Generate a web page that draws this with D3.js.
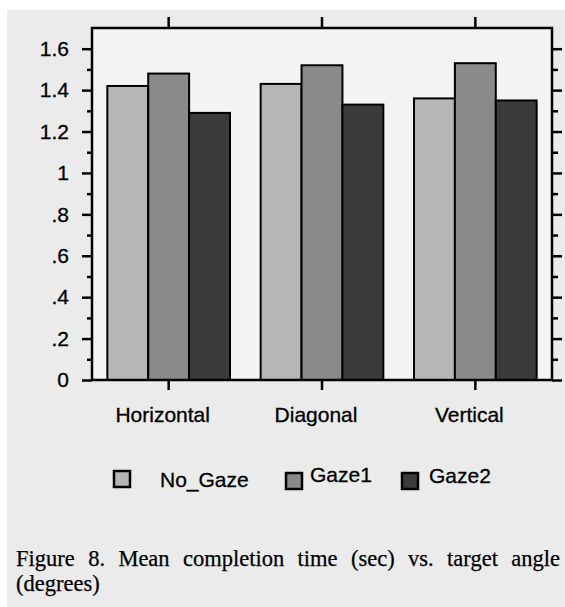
<!DOCTYPE html>
<html><head><meta charset="utf-8">
<script src="https://cdn.jsdelivr.net/npm/d3@7"></script>
<style>html,body{margin:0;padding:0;background:#fff;}svg{display:block;}</style>
</head><body>
<svg id="chart" width="565" height="607"></svg>
<script>
const categories = ["Horizontal", "Diagonal", "Vertical"];
const seriesNames = ["No_Gaze", "Gaze1", "Gaze2"];
const noGaze = [1.42, 1.43, 1.36];
const gaze1 = [1.48, 1.52, 1.53];
const gaze2 = [1.29, 1.33, 1.35];
const seriesValues = [noGaze, gaze1, gaze2];
const seriesColors = ["#b6b6b6", "#8a8a8a", "#3b3b3b"];
const yTickValues = [0, 0.2, 0.4, 0.6, 0.8, 1.0, 1.2, 1.4, 1.6];
const yTickLabels = ["0", ".2", ".4", ".6", ".8", "1", "1.2", "1.4", "1.6"];
const yMinorValues = [0.1, 0.3, 0.5, 0.7, 0.9, 1.1, 1.3, 1.5];
const captionLines = ["Figure 8. Mean completion time (sec) vs. target angle", "(degrees)"];

const svg = d3.select("#chart");
const L = 92, R = 552, T = 28, B = 380;

svg.append("rect").attr("x", 7).attr("y", 10).attr("width", 558).attr("height", 597).attr("fill", "#ebebeb");
svg.append("rect").attr("x", L).attr("y", T).attr("width", R - L).attr("height", B - T).attr("fill", "#f4f4f4");

const x0 = d3.scaleBand().domain(categories).range([L, R]).paddingInner(0.2).paddingOuter(0.1);
const x1 = d3.scaleBand().domain(seriesNames).range([0, x0.bandwidth()]);
const y = d3.scaleLinear().domain([0, 1.7]).range([B, T]);

const font = "'Liberation Sans', Arial, Helvetica, sans-serif";

// bars
const groups = svg.append("g").selectAll("g").data(categories).join("g")
  .attr("transform", d => `translate(${x0(d)},0)`);
groups.selectAll("rect").data((c, ci) => seriesNames.map((s, si) => ({s, si, v: seriesValues[si][ci]})))
  .join("rect")
  .attr("x", d => x1(d.s)).attr("width", x1.bandwidth())
  .attr("y", d => y(d.v)).attr("height", d => y(0) - y(d.v))
  .attr("fill", d => seriesColors[d.si]).attr("stroke", "#000").attr("stroke-width", 2);

// frame
svg.append("rect").attr("x", L).attr("y", T).attr("width", R - L).attr("height", B - T)
  .attr("fill", "none").attr("stroke", "#000").attr("stroke-width", 2.5);

// left axis
const leftAxis = d3.axisLeft(y).tickValues(yTickValues).tickSize(10).tickPadding(13)
  .tickFormat((d, i) => yTickLabels[i]);
const gl = svg.append("g").attr("transform", `translate(${L},0)`).call(leftAxis);
gl.select(".domain").remove();
gl.selectAll(".tick line").attr("stroke", "#000").attr("stroke-width", 2.5);
gl.selectAll(".tick text").attr("font-family", font).attr("font-size", 21).attr("fill", "#000")
  .attr("stroke", "#000").attr("stroke-width", 0.3);
const glm = svg.append("g").attr("transform", `translate(${L},0)`)
  .call(d3.axisLeft(y).tickValues(yMinorValues).tickSize(5).tickFormat(""));
glm.select(".domain").remove();
glm.selectAll(".tick line").attr("stroke", "#000").attr("stroke-width", 2.5);

// right axis
const gr = svg.append("g").attr("transform", `translate(${R},0)`)
  .call(d3.axisRight(y).tickValues(yTickValues).tickSize(10).tickFormat(""));
gr.select(".domain").remove();
gr.selectAll(".tick line").attr("stroke", "#000").attr("stroke-width", 2.5);
const grm = svg.append("g").attr("transform", `translate(${R},0)`)
  .call(d3.axisRight(y).tickValues(yMinorValues).tickSize(6).tickFormat(""));
grm.select(".domain").remove();
grm.selectAll(".tick line").attr("stroke", "#000").attr("stroke-width", 2.5);

// bottom axis
const gb = svg.append("g").attr("transform", `translate(0,${B})`)
  .call(d3.axisBottom(x0).tickSize(10).tickPadding(17));
gb.select(".domain").remove();
gb.selectAll(".tick line").attr("stroke", "#000").attr("stroke-width", 2.5);
gb.selectAll(".tick text").attr("font-family", font).attr("font-size", 21).attr("fill", "#000")
  .attr("stroke", "#000").attr("stroke-width", 0.3).attr("dx", -6);

// top axis
const gt = svg.append("g").attr("transform", `translate(0,${T})`)
  .call(d3.axisTop(x0).tickSize(11).tickFormat(""));
gt.select(".domain").remove();
gt.selectAll(".tick line").attr("stroke", "#000").attr("stroke-width", 2.5);

// legend
const legendItems = [
  {sx: 114, sy: 471, tx: 160, ty: 487},
  {sx: 286, sy: 473, tx: 310, ty: 482},
  {sx: 402, sy: 473, tx: 429, ty: 483}
];
const lg = svg.append("g");
seriesNames.forEach((s, i) => {
  const p = legendItems[i];
  lg.append("rect").attr("x", p.sx).attr("y", p.sy).attr("width", 16).attr("height", 16)
    .attr("fill", seriesColors[i]).attr("stroke", "#000").attr("stroke-width", 2.5);
  lg.append("text").attr("x", p.tx).attr("y", p.ty).attr("font-family", font).attr("font-size", 21)
    .attr("fill", "#000").attr("stroke", "#000").attr("stroke-width", 0.3).text(s);
});

// caption (justified first line)
const serif = "'Liberation Serif', 'Times New Roman', Times, serif";
const capL = 16, capR = 560;
const words = captionLines[0].split(" ");
const tmp = svg.append("g").attr("font-family", serif).attr("font-size", 22.5)
  .attr("fill", "#000").attr("stroke", "#000").attr("stroke-width", 0.25);
const widths = words.map(w => { const t = tmp.append("text").text(w); const wd = t.node().getComputedTextLength(); t.remove(); return wd; });
const gap = (capR - capL - d3.sum(widths)) / (words.length - 1);
let cx = capL;
words.forEach((w, i) => {
  tmp.append("text").attr("x", cx).attr("y", 566).text(w);
  cx += widths[i] + gap;
});
tmp.append("text").attr("x", capL).attr("y", 591).text(captionLines[1]);
</script>
</body></html>
